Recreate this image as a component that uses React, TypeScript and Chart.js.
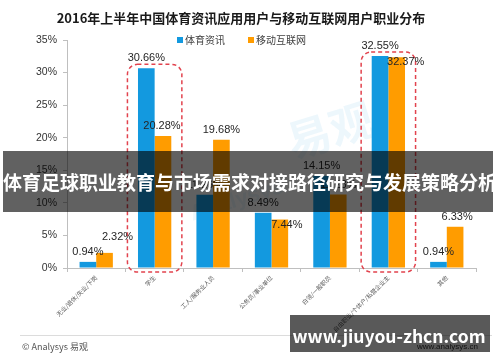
import React, { useEffect, useRef } from "react";
import { Chart, registerables } from "chart.js";

Chart.register(...registerables);

const title = "2016年上半年中国体育资讯应用用户与移动互联网用户职业分布";
const seriesNames = ["体育资讯", "移动互联网"];
const categories = [
  "无业/退休/失业/下岗",
  "学生",
  "工人/服务业人员",
  "公务员/事业单位",
  "白领/一般职员",
  "自由职业/个体户/私营企业主",
  "其他",
];
const sportsValues = [0.94, 30.66, 11.26, 8.49, 14.15, 32.55, 0.94];
const mobileValues = [2.32, 20.28, 19.68, 7.44, 11.28, 32.37, 6.33];
const yTickValues = [0, 5, 10, 15, 20, 25, 30, 35];
const highlightedCategories = [1, 5];
const bannerText = "体育足球职业教育与市场需求对接路径研究与发展策略分析";
const siteText = "www.jiuyou-zhcn.com";

// label nudges (style only): [dx, dy] per dataset per category
const labelNudges = [
  [[0, 0], [0, 0], [0, 0], [0, 0], [0, 0], [0, 0], [0, 0]],
  [[13, -6], [-1, 0], [0, 0], [7, 15], [0, 0], [9, 15], [2, 0]],
];

const COLORS = ["#1399df", "#ff9c00"];
const FONT = "'Liberation Sans', 'Noto Sans CJK SC', sans-serif";
const CJK = "'Noto Sans CJK SC', 'Liberation Sans', sans-serif";

export default function App() {
  const ref = useRef<HTMLCanvasElement | null>(null);

  useEffect(() => {
    if (!ref.current) return;

    const overlay = {
      id: "overlay",
      beforeDraw(chart: any) {
        const ctx = chart.ctx;
        ctx.save();
        ctx.fillStyle = "#ffffff";
        ctx.fillRect(0, 0, chart.width, chart.height);
        // watermark
        ctx.translate(330, 130);
        ctx.rotate(-0.3);
        ctx.fillStyle = "rgba(30,150,220,0.08)";
        ctx.font = `bold 44px ${CJK}`;
        ctx.textAlign = "center";
        ctx.textBaseline = "middle";
        ctx.fillText("易观", 0, 0);
        ctx.font = `bold 22px ${FONT}`;
        ctx.fillText("Analysys", -110, 40);
        ctx.restore();
      },
      afterDatasetsDraw(chart: any) {
        const ctx = chart.ctx;
        const x = chart.scales.x;
        const y = chart.scales.y;
        ctx.save();
        // dashed highlight boxes
        ctx.strokeStyle = "#e2434e";
        ctx.lineWidth = 1.5;
        ctx.setLineDash([4, 3]);
        highlightedCategories.forEach((i) => {
          const cx = x.getPixelForValue(i);
          const half = (x.getPixelForValue(1) - x.getPixelForValue(0)) / 2 - 2;
          const top = y.getPixelForValue(Math.max(sportsValues[i], mobileValues[i]) + 0.6);
          const bottom = y.getPixelForValue(0) + 4;
          ctx.beginPath();
          ctx.roundRect(cx - half, top, half * 2, bottom - top, 10);
          ctx.stroke();
        });
        ctx.setLineDash([]);
        // value labels
        ctx.fillStyle = "#262626";
        ctx.font = `11px ${FONT}`;
        ctx.textAlign = "center";
        ctx.textBaseline = "middle";
        chart.data.datasets.forEach((ds: any, di: number) => {
          const meta = chart.getDatasetMeta(di);
          meta.data.forEach((bar: any, i: number) => {
            const [dx, dy] = labelNudges[di][i];
            ctx.fillText(ds.data[i].toFixed(2) + "%", bar.x + dx, bar.y - 10 + dy);
          });
        });
        ctx.restore();
      },
      afterDraw(chart: any) {
        const ctx = chart.ctx;
        ctx.save();
        // title
        ctx.fillStyle = "#1a1a1a";
        ctx.font = `bold 13px ${CJK}`;
        ctx.textAlign = "center";
        ctx.textBaseline = "middle";
        ctx.fillText(title, 241, 18);
        // legend
        ctx.font = `10px ${CJK}`;
        ctx.textAlign = "left";
        ctx.fillStyle = COLORS[0];
        ctx.fillRect(177, 37, 6, 6);
        ctx.fillStyle = "#404040";
        ctx.fillText(seriesNames[0], 185, 40);
        ctx.fillStyle = COLORS[1];
        ctx.fillRect(248, 37, 6, 6);
        ctx.fillStyle = "#404040";
        ctx.fillText(seriesNames[1], 256, 40);
        // footer
        ctx.strokeStyle = "#dcdcdc";
        ctx.lineWidth = 1;
        ctx.beginPath();
        ctx.moveTo(20, 335.5);
        ctx.lineTo(492, 335.5);
        ctx.stroke();
        ctx.fillStyle = "#555";
        ctx.font = `9px ${CJK}`;
        ctx.fillText("© Analysys 易观", 22, 347);
        ctx.font = `8px ${FONT}`;
        ctx.fillStyle = "#333";
        ctx.fillText("www.analysys.cn", 417, 347);
        // big banner
        ctx.fillStyle = "rgba(0,0,0,0.62)";
        ctx.fillRect(3, 151, 490, 61);
        ctx.fillStyle = "#ffffff";
        ctx.font = `bold 19px ${CJK}`;
        ctx.textAlign = "center";
        ctx.fillText(bannerText, 250, 183);
        // site banner
        ctx.fillStyle = "rgba(0,0,0,0.65)";
        ctx.fillRect(290, 315, 200, 37);
        ctx.fillStyle = "#ffffff";
        ctx.font = `bold 17.5px ${CJK}`;
        ctx.fillText(siteText, 389, 336);
        ctx.restore();
      },
    };

    const chart = new Chart(ref.current, {
      type: "bar",
      data: {
        labels: categories,
        datasets: [
          { label: seriesNames[0], data: sportsValues, backgroundColor: COLORS[0] },
          { label: seriesNames[1], data: mobileValues, backgroundColor: COLORS[1] },
        ],
      },
      options: {
        responsive: false,
        animation: false,
        events: [],
        layout: { padding: { left: 0, right: 24, top: 40, bottom: 0 } },
        datasets: { bar: { categoryPercentage: 0.57, barPercentage: 1.0 } },
        plugins: { legend: { display: false }, title: { display: false }, tooltip: { enabled: false } },
        scales: {
          x: {
            afterFit(scale: any) {
              scale.height = 94;
            },
            border: { color: "#bfbfbf" },
            grid: { drawOnChartArea: false, drawTicks: true, tickLength: 4, color: "#bfbfbf", offset: true },
            ticks: {
              autoSkip: false,
              minRotation: 45,
              maxRotation: 45,
              padding: 2,
              color: "#595959",
              font: { size: 6, family: CJK },
            },
          },
          y: {
            min: 0,
            max: 35,
            afterFit(scale: any) {
              scale.width = 67;
            },
            afterBuildTicks(scale: any) {
              scale.ticks = yTickValues.map((v) => ({ value: v }));
            },
            border: { color: "#bfbfbf" },
            grid: { drawOnChartArea: false, drawTicks: true, tickLength: 4, color: "#bfbfbf" },
            ticks: {
              padding: 6,
              color: "#333333",
              font: { size: 10.5, family: FONT },
              callback: (v: any) => v + "%",
            },
          },
        },
      },
      plugins: [overlay],
    });
    return () => chart.destroy();
  }, []);

  return (
    <div style={{ position: "absolute", left: 0, top: 0, width: 500, height: 362 }}>
      <canvas ref={ref} width={500} height={362} style={{ display: "block", width: 500, height: 362 }} />
    </div>
  );
}
